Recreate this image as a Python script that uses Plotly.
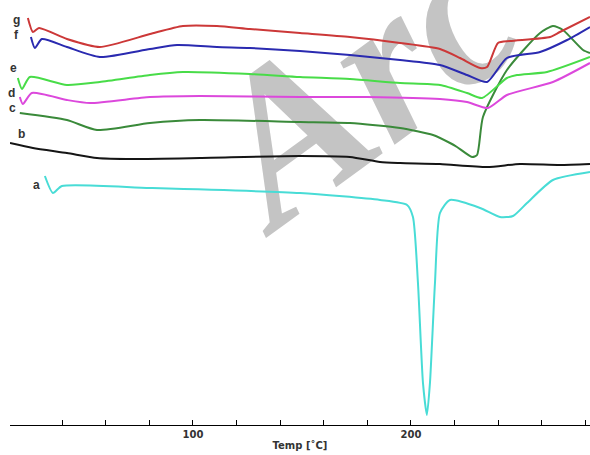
import plotly.graph_objects as go

# Temperatures (°C) and heat-flow signals (arbitrary units, offset traces)
g_T = [24.3, 26.6, 29.4, 42.2, 57.3, 80.3, 95.4, 111.0, 126.1, 149.1, 172.0, 195.0, 213.3, 222.5, 231.7, 234.9, 239.9, 245.4, 263.8, 268.3, 282.1]
g_H = [407, 393, 397, 386, 378, 391, 399, 399, 396, 392, 388, 382, 376, 367, 357, 358, 382, 384, 388, 393, 408]

f_T = [25.7, 27.5, 30.7, 42.2, 57.3, 80.3, 92.7, 111.0, 126.1, 149.1, 172.0, 195.0, 213.3, 225.7, 234.9, 244.0, 259.2, 271.6, 282.1]
f_H = [388, 377, 386, 378, 368, 376, 380, 378, 377, 374, 370, 365, 360, 350, 343, 367, 373, 385, 398]

e_T = [19.7, 21.6, 25.2, 42.2, 57.3, 80.3, 95.4, 126.1, 149.1, 172.0, 195.0, 213.3, 225.7, 232.6, 244.0, 248.6, 262.4, 282.1]
e_H = [347, 336, 348, 340, 343, 350, 353, 351, 348, 346, 342, 340, 332, 327, 347, 350, 353, 368]

d_T = [20.6, 22.0, 26.1, 42.2, 52.8, 80.3, 103.2, 149.1, 179.8, 213.3, 225.7, 235.3, 244.0, 265.1, 282.1]
d_H = [328, 321, 332, 325, 322, 328, 329, 328, 328, 326, 323, 317, 330, 343, 362]

c_T = [20.6, 42.2, 56.0, 80.3, 103.2, 149.1, 172.0, 195.0, 210.1, 217.9, 221.1, 228.0, 230.3, 233.0, 244.0, 259.2, 265.1, 269.7, 278.9, 282.1]
c_H = [312, 305, 295, 302, 305, 303, 302, 297, 290, 282, 278, 268, 270, 308, 355, 392, 399, 395, 375, 372]

b_T = [16.1, 26.6, 42.2, 56.0, 72.5, 103.2, 149.1, 172.0, 185.8, 195.0, 213.3, 234.9, 250.0, 268.3, 282.1]
b_H = [282, 277, 272, 267, 266, 267, 269, 268, 263, 262, 261, 258, 261, 260, 261]

a_T = [32.1, 35.8, 39.9, 80.3, 149.1, 185.8, 198.2, 200.9, 203.2, 205.5, 207.3, 208.7, 211.0, 213.3, 217.9, 231.7, 240.8, 246.8, 253.2, 265.1, 282.1]
a_H = [249, 232, 239, 237, 232, 225, 220, 208, 142, 42, 10, 42, 142, 212, 225, 217, 208, 209, 222, 245, 253]

series = [
    ("a", a_T, a_H, "#48dcd6"),
    ("b", b_T, b_H, "#151515"),
    ("c", c_T, c_H, "#3a8a3a"),
    ("d", d_T, d_H, "#dc48dc"),
    ("e", e_T, e_H, "#48dc48"),
    ("f", f_T, f_H, "#2a2ab0"),
    ("g", g_T, g_H, "#cc3838"),
]

# curve labels: (text, T, H)
labels = [("g", 19.3, 405), ("f", 19.3, 390), ("e", 17.9, 357), ("d", 16.6, 332),
          ("c", 17.4, 317), ("b", 21.6, 291), ("a", 28.4, 240)]

tick_vals = [40, 60, 80, 100, 120, 140, 160, 180, 200, 220, 240, 260, 280]
tick_text = ["" if v not in (100, 200) else "<b>%d</b>" % v for v in tick_vals]

fig = go.Figure()
for name, T, H, col in series:
    fig.add_trace(go.Scatter(x=T, y=H, mode="lines", name=name,
                             line=dict(color=col, width=2, shape="spline", smoothing=0.6),
                             showlegend=False, hoverinfo="skip"))

for txt, T, H in labels:
    fig.add_annotation(x=T, y=H, text="<b>%s</b>" % txt, showarrow=False,
                       font=dict(family="Liberation Sans, Arial", size=12, color="#333333"))

# watermark (behind the curves)
fig.add_shape(type="rect", xref="paper", yref="paper", x0=0.435, x1=0.735, y0=0.72, y1=1.0,
              line=dict(width=0), fillcolor="rgba(0,0,0,0)", layer="below",
              label=dict(text="Arc", textangle=-36, textposition="middle center",
                         font=dict(family="Liberation Serif", size=215, color="#c4c4c4",
                                   weight="bold", style="italic")))

fig.update_layout(
    width=590, height=455,
    margin=dict(l=10, r=0, t=0, b=30),
    paper_bgcolor="white", plot_bgcolor="white",
    xaxis=dict(range=[16.1, 282.1], showline=True, linecolor="black", linewidth=1,
               ticks="inside", ticklen=5, tickcolor="black", tickvals=tick_vals, ticktext=tick_text,
               showgrid=False, zeroline=False,
               tickfont=dict(family="DejaVu Sans", size=10, color="#333333"),
               title=dict(text="<b>Temp [˚C]</b>", standoff=2,
                          font=dict(family="DejaVu Sans", size=10, color="#333333"))),
    yaxis=dict(range=[0, 425], visible=False),
)

fig.write_html("out.html", config={"displayModeBar": False},
               post_script="document.body.style.margin='0';")
